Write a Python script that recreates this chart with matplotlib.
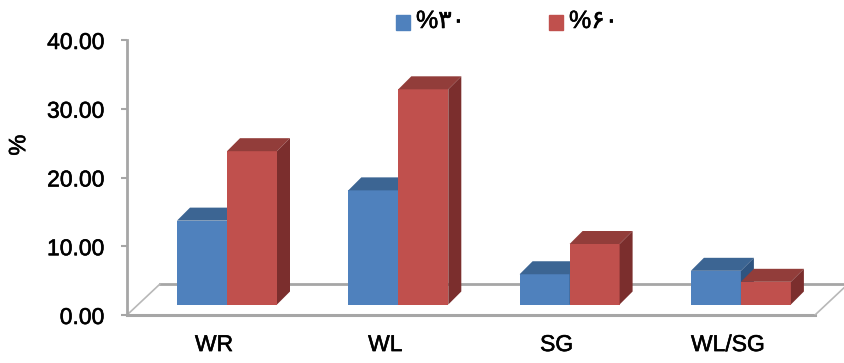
import matplotlib.pyplot as plt
import matplotlib.patheffects as pe
from matplotlib.patches import Polygon, Rectangle

# data
categories = ['WR', 'WL', 'SG', 'WL/SG']
series_names = ['%۳۰', '%۶۰']
values_30 = [12.2, 16.6, 4.4, 4.9]
values_60 = [22.3, 31.3, 8.8, 3.3]
y_ticks = [0, 10, 20, 30, 40]

front_colors = ['#4f81bd', '#c0504d']
top_colors = ['#3c6593', '#923d3a']
side_colors = ['#2f5480', '#7b2e2d']

plt.rcParams['font.family'] = ['Liberation Sans', 'DejaVu Sans']
# slightly heavier text
bold_fx = [pe.withStroke(linewidth=0.4, foreground='black')]

W, H = 844, 363
fig = plt.figure(figsize=(W / 100, H / 100), dpi=100)
# plot box: left 127px, right edge, top 40px, bottom 315px
ax = fig.add_axes([127 / W, (H - 315) / H, (W - 127) / W, (315 - 40) / H])

xpx = 1 / 171.3          # one pixel in category units
ypx = 40 / 275.0         # one pixel in value units
ax.set_xlim(-100 * xpx, 617 * xpx)
ax.set_ylim(0, 40)

bw = 50 * xpx            # bar width
base = 10.5 * ypx        # bars stand a bit behind the front edge of the floor
dx, dy = 13 * xpx, 13 * ypx

# floor outline
fx0, fx1 = -100 * xpx, 588 * xpx
fdx, fdy = 33 * xpx, 31 * ypx
ax.plot([fx0 + fdx, 640 * xpx], [fdy, fdy], color='#a6a6a6', lw=2, zorder=1, clip_on=True)
ax.plot([fx0, fx1], [0, 0], color='#a6a6a6', lw=2.2, zorder=1, clip_on=False)
ax.plot([fx0, fx0 + fdx], [0, fdy], color='#b8b8b8', lw=1.2, zorder=1)
ax.plot([fx1, fx1 + fdx], [0, fdy], color='#b8b8b8', lw=1.2, zorder=1)

# 3d-looking bars: front face + top + right side
for s, vals in enumerate([values_30, values_60]):
    for i, v in enumerate(vals):
        x0 = i - bw if s == 0 else i
        ax.bar(x0, v, width=bw, bottom=base, align='edge',
               color=front_colors[s], zorder=3 + s, linewidth=0)
        top = [(x0, base + v), (x0 + bw, base + v),
               (x0 + bw + dx, base + v + dy), (x0 + dx, base + v + dy)]
        side = [(x0 + bw, base), (x0 + bw + dx, base + dy),
                (x0 + bw + dx, base + v + dy), (x0 + bw, base + v)]
        ax.add_patch(Polygon(top, closed=True, color=top_colors[s], lw=0, zorder=3 + s))
        ax.add_patch(Polygon(side, closed=True, color=side_colors[s], lw=0, zorder=3 + s))

# axes styling
for k in ['top', 'right', 'bottom']:
    ax.spines[k].set_visible(False)
ax.spines['left'].set_color('#a6a6a6')
ax.spines['left'].set_linewidth(2)
ax.set_yticks(y_ticks)
ax.set_yticklabels(['{:.2f}'.format(t) for t in y_ticks])
ax.tick_params(axis='y', length=4.3, width=1.5, color='#a6a6a6', pad=12, labelsize=16.5)
ax.set_xticks([i - 13 * xpx for i in range(len(categories))])
ax.set_xticklabels(categories)
ax.tick_params(axis='x', length=0, pad=13, labelsize=16.5)
for lab in ax.get_xticklabels() + ax.get_yticklabels():
    lab.set_path_effects(bold_fx)
ax.set_ylabel('%', fontsize=17, path_effects=bold_fx)
ax.yaxis.set_label_coords(-0.135, 0.618)

# legend along the top
for s, (x_box, x_txt) in enumerate([(396, 416), (549, 569)]):
    fig.patches.append(Rectangle((x_box / W, 1 - 30 / H), 14 / W, 15 / H,
                                 transform=fig.transFigure, color=front_colors[s]))
    fig.text(x_txt / W, 1 - 21 / H, series_names[s], fontsize=18, va='center', ha='left',
             path_effects=bold_fx)

fig.savefig('out.png', dpi=100)
